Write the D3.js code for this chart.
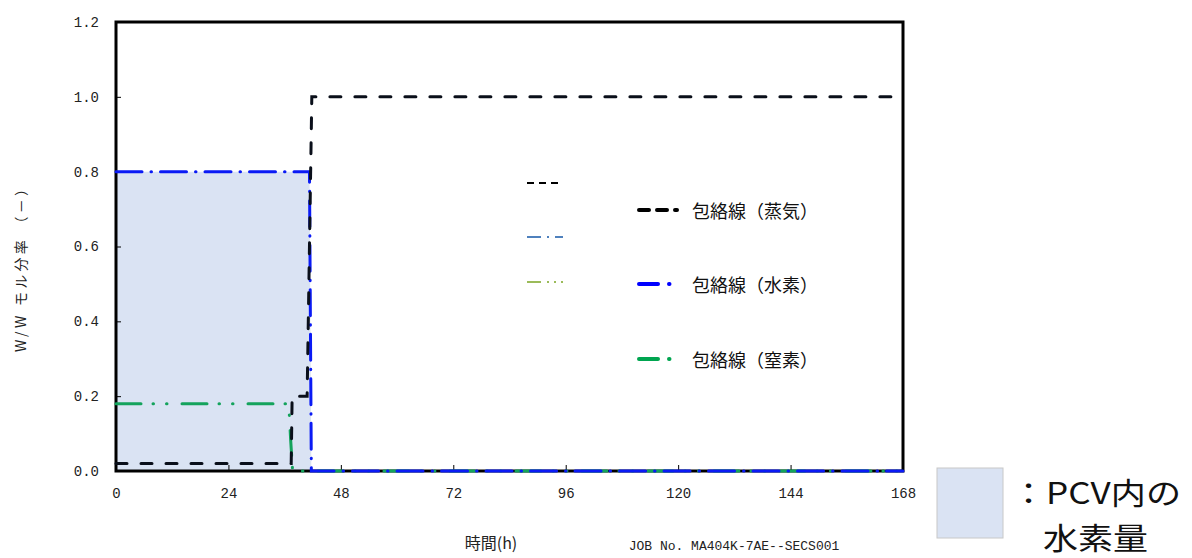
<!DOCTYPE html>
<html><head><meta charset="utf-8">
<script src="https://cdn.jsdelivr.net/npm/d3@7"></script>
<style>body{margin:0;background:#fff}svg{display:block}</style>
</head><body>
<script>
// ---- data ----
const steamT = [0, 37.4, 37.6, 40.8, 41.8, 168];
const steamV = [0.02, 0.02, 0.2, 0.2, 1.0, 1.0];
const hydroT = [0, 41.3, 41.7, 168];
const hydroV = [0.8, 0.8, 0, 0];
const nitroT = [0, 36.5, 37.0, 37.3, 37.7, 168];
const nitroV = [0.18, 0.18, 0.15, 0.08, 0, 0];
const xTicks = [0, 24, 48, 72, 96, 120, 144, 168];
const yTicks = [0, 0.2, 0.4, 0.6, 0.8, 1.0, 1.2];
const legendLabels = ["包絡線（蒸気）", "包絡線（水素）", "包絡線（窒素）"];
const xTitle = "時間(h)";
const yTitle = "W/W モル分率 （－）";
const jobText = "JOB No. MA404K-7AE--SECS001";
const areaLegend1 = "：PCV内の";
const areaLegend2 = "水素量";

const W = 1192, H = 558;
const L = 116, T = 22, R = 903, B = 471;
const svg = d3.select("body").append("svg").attr("width", W).attr("height", H);
const x = d3.scaleLinear().domain([0, 168]).range([L, R]);
const y = d3.scaleLinear().domain([0, 1.2]).range([B, T]);

const zip = (ts, vs) => ts.map((t, i) => [t, vs[i]]);
const line = d3.line().x(d => x(d[0])).y(d => y(d[1]));
const area = d3.area().x(d => x(d[0])).y0(y(0)).y1(d => y(d[1]));

const FILL = "#dae3f3";
// area (hydrogen in PCV)
svg.append("path").datum(zip(hydroT, hydroV)).attr("d", area).attr("fill", FILL);

// ticks (inside)
svg.append("g").attr("transform", `translate(${L},0)`)
  .call(d3.axisRight(y).tickValues(yTicks).tickSize(5).tickFormat(""))
  .call(g => { g.select(".domain").remove(); g.selectAll("line").attr("stroke", "#000"); });
svg.append("g").attr("transform", `translate(0,${B})`)
  .call(d3.axisTop(x).tickValues(xTicks).tickSize(6).tickFormat(""))
  .call(g => { g.select(".domain").remove(); g.selectAll("line").attr("stroke", "#000"); });

// frame
svg.append("rect").attr("x", L).attr("y", T).attr("width", R - L).attr("height", B - T)
  .attr("fill", "none").attr("stroke", "#000").attr("stroke-width", 3);

// lines
const BLK = "#0a0f1a", BLU = "#0a1af5", GRN = "#14a35c";
svg.append("path").datum(zip(nitroT, nitroV)).attr("d", line).attr("fill", "none")
  .attr("stroke", GRN).attr("stroke-width", 3).attr("stroke-linecap", "round")
  .attr("stroke-dasharray", "25,12,0.5,13,0.5,15");
svg.append("path").datum(zip(hydroT, hydroV)).attr("d", line).attr("fill", "none")
  .attr("stroke", BLU).attr("stroke-width", 3).attr("stroke-linecap", "round")
  .attr("stroke-dasharray", "26,9,0.5,9");
svg.append("path").datum(zip(steamT, steamV)).attr("d", line).attr("fill", "none")
  .attr("stroke", BLK).attr("stroke-width", 3).attr("stroke-linecap", "round")
  .attr("stroke-dasharray", "11,14");

// tick labels
const tickFont = "'Liberation Mono', monospace";
svg.append("g").attr("transform", `translate(${L - 14},0)`)
  .call(d3.axisLeft(y).tickValues(yTicks).tickSize(0).tickFormat(d3.format(".1f")))
  .call(g => { g.select(".domain").remove();
    g.selectAll("text").attr("font-family", tickFont).attr("font-size", 14).attr("fill", "#222"); });
svg.append("g").attr("transform", `translate(0,${B + 14})`)
  .call(d3.axisBottom(x).tickValues(xTicks).tickSize(0).tickFormat(d3.format("d")))
  .call(g => { g.select(".domain").remove();
    g.selectAll("text").attr("font-family", tickFont).attr("font-size", 14).attr("fill", "#222"); });

// axis titles
svg.append("text").attr("x", 491).attr("y", 549).attr("text-anchor", "middle")
  .attr("font-family", "'Noto Sans CJK JP'").attr("font-size", 16).attr("fill", "#222").text(xTitle);
svg.append("text").attr("x", 734).attr("y", 550).attr("text-anchor", "middle")
  .attr("font-family", tickFont).attr("font-size", 13).attr("fill", "#222").text(jobText);
svg.append("text").attr("transform", "translate(26,267) rotate(-90)").attr("text-anchor", "middle")
  .attr("font-family", "'Noto Sans CJK JP'").attr("font-size", 14).attr("fill", "#222")
  .attr("textLength", 170).attr("lengthAdjust", "spacing").text(yTitle);

// legend: thin (unlabelled) samples
const thin = [
  {y: 183, c: "#000", dash: "7,5"},
  {y: 237, c: "#4f81bd", dash: "14,6,2,6"},
  {y: 282, c: "#9bbb59", dash: "14,6,2,5,2,5"}
];
svg.selectAll(".thin").data(thin).enter().append("line")
  .attr("x1", 527).attr("x2", 563).attr("y1", d => d.y).attr("y2", d => d.y)
  .attr("stroke", d => d.c).attr("stroke-width", 1.8).attr("stroke-dasharray", d => d.dash);

// legend: thick labelled samples
const thick = [
  {y: 210, c: "#000", dash: "10,8", label: legendLabels[0]},
  {y: 284, c: "#0000ff", dash: "19,11,0.5,20", label: legendLabels[1]},
  {y: 359, c: "#00a550", dash: "19,11,0.5,20", label: legendLabels[2]}
];
const lg = svg.selectAll(".leg").data(thick).enter().append("g");
lg.append("line").attr("x1", 639).attr("x2", 677).attr("y1", d => d.y).attr("y2", d => d.y)
  .attr("stroke", d => d.c).attr("stroke-width", 4).attr("stroke-linecap", "round")
  .attr("stroke-dasharray", d => d.dash);
lg.append("text").attr("x", 692).attr("y", d => d.y).attr("dominant-baseline", "central")
  .attr("font-family", "'Noto Sans CJK JP'").attr("font-size", 18).attr("fill", "#111")
  .text(d => d.label);

// area legend
svg.append("rect").attr("x", 937).attr("y", 468).attr("width", 66).attr("height", 70)
  .attr("fill", FILL).attr("stroke", "#c8c8c8").attr("stroke-width", 1);
svg.append("text").attr("x", 1011).attr("y", 504)
  .attr("font-family", "'Noto Sans CJK JP'").attr("font-size", 30).attr("fill", "#111")
  .attr("textLength", 170).attr("lengthAdjust", "spacingAndGlyphs").text(areaLegend1);
svg.append("text").attr("x", 1043).attr("y", 549)
  .attr("font-family", "'Noto Sans CJK JP'").attr("font-size", 30).attr("fill", "#111")
  .attr("textLength", 105).attr("lengthAdjust", "spacingAndGlyphs").text(areaLegend2);
</script>
</body></html>
